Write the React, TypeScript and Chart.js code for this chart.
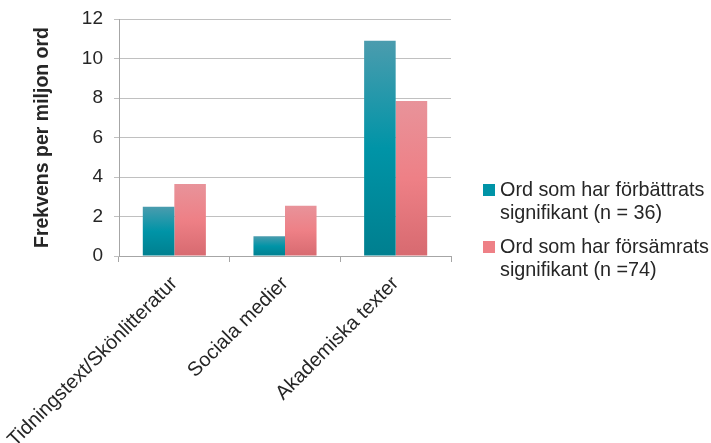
import React, { useEffect, useRef } from "react";
import { Chart, registerables } from "chart.js";

Chart.register(...registerables);

const categories = ["Tidningstext/Skönlitteratur", "Sociala medier", "Akademiska texter"];
const improvedValues = [2.5, 1.0, 10.9];
const worsenedValues = [3.65, 2.55, 7.85];
const improvedLabel = ["Ord som har förbättrats", "signifikant (n = 36)"];
const worsenedLabel = ["Ord som har försämrats", "signifikant (n =74)"];
const yTitle = "Frekvens per miljon ord";
const yMin = 0;
const yMax = 12;
const yStep = 2;

const FONT = '"Liberation Sans", Arial, Helvetica, sans-serif';
const TEXT = "#262626";

const tealStops = ["#4b9cae", "#0094a7", "#007f8f"];
const pinkStops = ["#e8939a", "#ee8086", "#d76a70"];

function gradientFill(stops: string[]) {
  return (ctx: any) => {
    const chart = ctx.chart;
    if (!chart.chartArea || ctx.type !== "data") return stops[1];
    const y = chart.scales.y;
    const top = y.getPixelForValue(ctx.raw);
    const bottom = y.getPixelForValue(0);
    if (!isFinite(top) || !isFinite(bottom) || top === bottom) return stops[1];
    const g = chart.ctx.createLinearGradient(0, top, 0, bottom);
    g.addColorStop(0, stops[0]);
    g.addColorStop(0.5, stops[1]);
    g.addColorStop(1, stops[2]);
    return g;
  };
}

const legendPlugin = {
  id: "sideLegend",
  afterDraw(chart: any) {
    const ctx = chart.ctx;
    const items = [
      { lines: improvedLabel, color: tealStops[1] },
      { lines: worsenedLabel, color: pinkStops[1] },
    ];
    ctx.save();
    ctx.font = `19.8px ${FONT}`;
    ctx.textBaseline = "alphabetic";
    ctx.textAlign = "left";
    items.forEach((item, i) => {
      const baseY = 196 + i * 57;
      ctx.fillStyle = item.color;
      ctx.fillRect(483, baseY - 12, 12, 12);
      ctx.fillStyle = TEXT;
      item.lines.forEach((line, j) => {
        ctx.fillText(line, 500, baseY + j * 23);
      });
    });
    ctx.restore();
  },
};

export default function App() {
  const canvasRef = useRef<HTMLCanvasElement | null>(null);

  useEffect(() => {
    if (!canvasRef.current) return;
    const chart = new Chart(canvasRef.current, {
      type: "bar",
      data: {
        labels: categories,
        datasets: [
          {
            label: improvedLabel.join(" "),
            data: improvedValues,
            backgroundColor: gradientFill(tealStops),
            borderWidth: 0,
          },
          {
            label: worsenedLabel.join(" "),
            data: worsenedValues,
            backgroundColor: gradientFill(pinkStops),
            borderWidth: 0,
          },
        ],
      },
      options: {
        responsive: false,
        animation: false,
        layout: { padding: { left: 31, top: 19, right: 260, bottom: 0 } },
        datasets: {
          bar: { barPercentage: 1, categoryPercentage: 0.57 },
        },
        plugins: {
          legend: { display: false },
          tooltip: { enabled: false },
          title: { display: false },
        },
        scales: {
          x: {
            offset: true,
            grid: {
              display: true,
              drawOnChartArea: false,
              drawTicks: true,
              tickLength: 6,
              color: "#a6a6a6",
              offset: true,
            },
            border: { display: true, color: "#a6a6a6" },
            ticks: {
              autoSkip: false,
              minRotation: 45,
              maxRotation: 45,
              padding: 10,
              color: TEXT,
              font: { family: FONT, size: 20 },
            },
            afterFit: (s: any) => {
              s.height = 187;
              s.paddingLeft = 0;
              s.paddingRight = 0;
            },
          },
          y: {
            min: yMin,
            max: yMax,
            ticks: {
              stepSize: yStep,
              padding: 11,
              color: TEXT,
              font: { family: FONT, size: 19 },
            },
            grid: {
              color: "#c0c0c0",
              tickLength: 5,
            },
            border: { display: true, color: "#a6a6a6" },
            title: {
              display: true,
              text: yTitle,
              color: TEXT,
              padding: 0,
              font: { family: FONT, size: 19.5, weight: "bold" },
            },
            afterFit: (s: any) => {
              s.width = 88;
              s.paddingTop = 0;
              s.paddingBottom = 0;
            },
          },
        },
      },
      plugins: [legendPlugin],
    });
    return () => chart.destroy();
  }, []);

  return (
    <div style={{ position: "absolute", left: 0, top: 0, width: 711, height: 443, background: "#fff" }}>
      <canvas ref={canvasRef} width={711} height={443} style={{ display: "block" }} />
    </div>
  );
}
